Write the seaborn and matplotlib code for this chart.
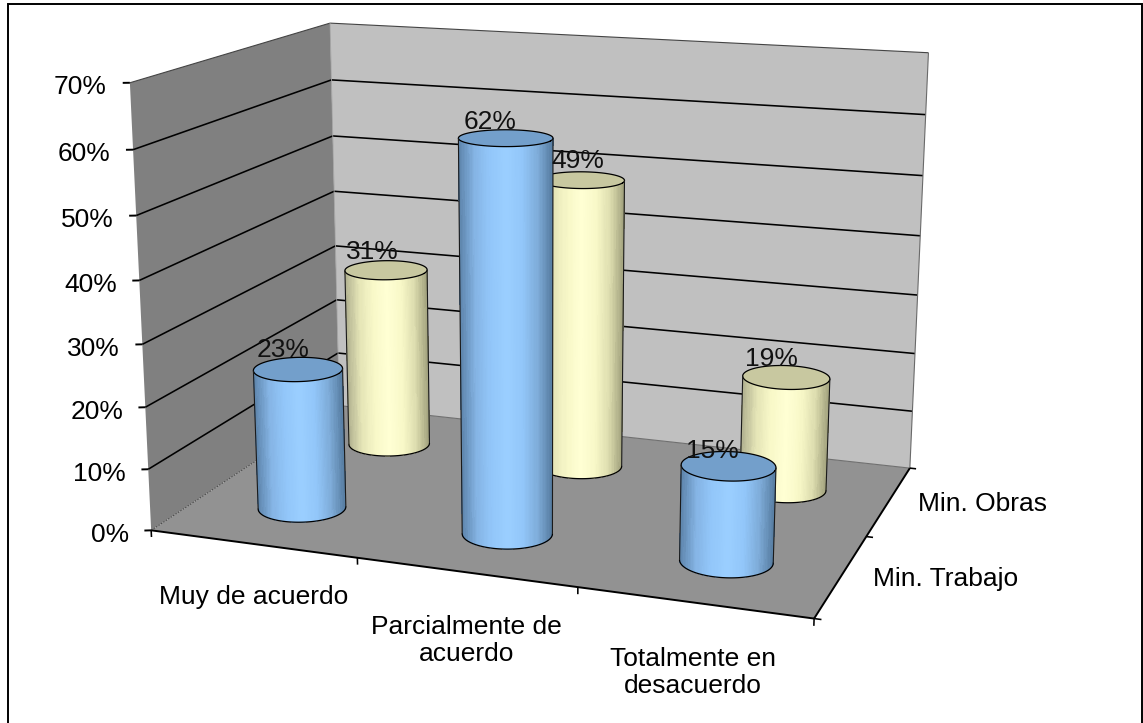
import numpy as np
import matplotlib
matplotlib.use("Agg")
import matplotlib.pyplot as plt
from matplotlib.patches import Rectangle
from mpl_toolkits.mplot3d.art3d import Poly3DCollection
import seaborn as sns

# Survey results, percent of answers per ministry
categorias = ["Muy de acuerdo", "Parcialmente de\nacuerdo", "Totalmente en\ndesacuerdo"]
ministerios = ["Min. Trabajo", "Min. Obras"]
min_trabajo = [23, 62, 15]
min_obras = [31, 49, 19]
ticks_valor = [0, 10, 20, 30, 40, 50, 60, 70]

W, H = 1143, 723

# Camera calibration: box coordinates (category, series, percent) and their screen pixels
box_points = np.array([
    (0, 0, 0), (1, 0, 0), (2, 0, 0), (3, 0, 0), (3, 1, 0), (3, 2, 0), (0, 2, 0),
    (0, 0, 70), (0, 0, 60), (0, 2, 70), (3, 2, 70), (3, 2, 60),
], dtype=float)
screen_points = np.array([
    (152, 530), (357, 558), (577, 588), (814, 618), (867, 537), (910, 467), (339, 406),
    (130, 82), (133, 150), (330, 23), (929, 53), (925, 115),
], dtype=float)


def fit_camera(world, screen):
    """Least-squares 3x4 projective camera (direct linear transform)."""
    rows = []
    for (x, y, z), (u, v) in zip(world, screen):
        rows.append([x, y, z, 1, 0, 0, 0, 0, -u * x, -u * y, -u * z, -u])
        rows.append([0, 0, 0, 0, x, y, z, 1, -v * x, -v * y, -v * z, -v])
    P = np.linalg.svd(np.array(rows))[2][-1].reshape(3, 4)
    return P / P[2, 3]


P = fit_camera(box_points, screen_points)


def to_pixels(x, y, z):
    pts = np.stack([x, y, z, np.ones_like(x)])
    u, v, w = P @ pts
    return u / w, v / w


sns.set_theme(style="white")
plt.rcParams["font.family"] = ["Liberation Sans", "DejaVu Sans"]

fig = plt.figure(figsize=(W / 100, H / 100), dpi=100, facecolor="white")
ax = fig.add_axes([0, 0, 1, 1], projection="3d", computed_zorder=False)
ax.set_proj_type("ortho")
ax.set_xticks([])
ax.set_yticks([])
ax.set_zticks([])
ax.set_axis_off()
ax.patch.set_visible(False)
ax.apply_aspect = lambda position=None: None


def camera_matrix():
    vl = ax.viewLim
    sx = (vl.x1 - vl.x0) / W
    sy = (vl.y1 - vl.y0) / H
    return np.array([
        vl.x0 * P[2] + sx * P[0],
        vl.y1 * P[2] - sy * P[1],
        [0, 1, 0, 0],
        P[2],
    ])


ax.get_proj = camera_matrix

FONT = 19
PALE_EDGE = "#6a6a6a"


def label(x, y, z, s, **kw):
    """Text anchored at a box coordinate, kept on top of every mark."""
    u, v = to_pixels(np.array(float(x)), np.array(float(y)), np.array(float(z)))
    fig.text(float(u) / W, 1 - float(v) / H, s, fontsize=FONT, **kw)


# Box faces
faces = [
    ([(0, 0, 0), (0, 2, 0), (0, 2, 70), (0, 0, 70)], "#808080"),
    ([(0, 2, 0), (3, 2, 0), (3, 2, 70), (0, 2, 70)], "#c0c0c0"),
    ([(0, 0, 0), (3, 0, 0), (3, 2, 0), (0, 2, 0)], "#929292"),
]
for verts, col in faces:
    ax.add_collection3d(Poly3DCollection([verts], facecolors=col, edgecolors="none", zorder=1))


def seg(a, b, **kw):
    ax.plot([a[0], b[0]], [a[1], b[1]], [a[2], b[2]], solid_capstyle="butt", **kw)


# Gridlines across both walls
for v in ticks_valor[1:-1]:
    seg((0, 0, v), (0, 2, v), color="black", lw=1.15, zorder=3)
    seg((0, 2, v), (3, 2, v), color="black", lw=1.15, zorder=3)

# Box outline
seg((0, 0, 70), (0, 2, 70), color="#444444", lw=0.8, zorder=3)
seg((0, 2, 70), (3, 2, 70), color="#444444", lw=0.8, zorder=3)
seg((3, 2, 70), (3, 2, 0), color=PALE_EDGE, lw=0.8, zorder=3)
seg((0, 2, 70), (0, 2, 0), color="#a0a0a0", lw=0.6, zorder=3)
seg((0, 2, 0), (3, 2, 0), color="#707070", lw=0.8, zorder=3)
seg((0, 0, 0), (0, 2, 0), color="#444444", lw=0.7, ls=(0, (1.5, 1.5)), zorder=3)
seg((0, 0, 0), (3, 0, 0), color="black", lw=1.4, zorder=3)
seg((3, 0, 0), (3, 2, 0), color="black", lw=1.4, zorder=3)

# Percent axis: ticks and labels to the left of the front edge
for v in ticks_valor:
    seg((0, 0, v), (-0.027, -0.0125, v), color="black", lw=1.4, zorder=3)
    label(-0.088, -0.041, v - 0.6, f"{v}%", ha="right", va="center", color="black")

# Category axis
for i in range(4):
    seg((i, 0, 0), (i, 0, -1.1), color="black", lw=1.15, zorder=3)
for i, cat in enumerate(categorias):
    label(i + 0.5, 0, -6.8, cat, ha="center", va="top", color="black",
          linespacing=1.18, multialignment="center")

# Series axis
for j in range(3):
    seg((3, j, 0), (3.03, j, 0), color="black", lw=1.15, zorder=3)
for j, nombre in enumerate(ministerios):
    label(3.135, j + 0.5, 0.1, nombre, ha="left", va="center", color="black")

# Cylinder shading, left silhouette to right silhouette
RAMP_BLUE = sns.blend_palette(["#5c83aa", "#85b4e4", "#92c6f9", "#9bcfff", "#92c6f9", "#7fadda", "#557b9f"], 64)
RAMP_YELLOW = sns.blend_palette(["#b0b08f", "#e4e4b6", "#f8f8c8", "#ffffd4", "#f8f8c8", "#dedeb0", "#a0a07c"], 64)
TOP_BLUE = "#739fcb"
TOP_YELLOW = "#c8c8a0"
RX, RY = 0.2, 0.195


def cylinder(cx, cy, value, ramp, top_colour, z):
    th = np.linspace(0, 2 * np.pi, 361)[:-1]
    bx, by = cx + RX * np.cos(th), cy + RY * np.sin(th)
    px, py = to_pixels(bx, by, np.zeros_like(bx))
    il, ir = int(np.argmin(px)), int(np.argmax(px))

    # Front arc runs through the screen-lowest point of the base circle
    front = int(np.argmax(py))
    a0, a1 = th[il], th[ir]
    af = th[front]
    if not (min(a0, a1) < af < max(a0, a1)):
        if a0 < a1:
            a0 += 2 * np.pi
        else:
            a1 += 2 * np.pi
    arc = np.linspace(a0, a1, 97)
    ax_, ay_ = cx + RX * np.cos(arc), cy + RY * np.sin(arc)
    X = np.vstack([ax_, ax_])
    Y = np.vstack([ay_, ay_])
    Z = np.vstack([np.zeros_like(arc), np.full_like(arc, value)])

    u, _ = to_pixels(ax_, ay_, np.zeros_like(arc))
    mid = (u[:-1] + u[1:]) / 2
    t = (mid - u.min()) / (u.max() - u.min())
    cols = np.array([ramp[min(63, int(k * 64))] for k in t])
    ax.plot_surface(X, Y, Z, facecolors=cols[None, :], rstride=1, cstride=1, shade=False,
                    linewidth=0, antialiased=False, zorder=z)

    # Top disc
    ring = np.linspace(0, 2 * np.pi, 121)
    tx, ty = cx + RX * np.cos(ring), cy + RY * np.sin(ring)
    ax.add_collection3d(Poly3DCollection([list(zip(tx, ty, np.full_like(tx, value)))],
                                         facecolors=top_colour, edgecolors="none", zorder=z + 0.1))
    ax.plot(tx, ty, np.full_like(tx, value), color="black", lw=0.9, zorder=z + 0.2)

    # Outline: base arc and the two silhouette lines
    ax.plot(ax_, ay_, np.zeros_like(ax_), color="black", lw=0.9, zorder=z + 0.2)
    for k in (0, -1):
        seg((ax_[k], ay_[k], 0), (ax_[k], ay_[k], value), color="#1a1a1a", lw=0.8, zorder=z + 0.2)


# Rear series first, so the front series overlaps it
for i, v in enumerate(min_obras):
    cylinder(i + 0.5, 1.5, v, RAMP_YELLOW, TOP_YELLOW, 4 + i * 0.5)
for i, v in enumerate(min_trabajo):
    cylinder(i + 0.5, 0.5, v, RAMP_BLUE, TOP_BLUE, 6 + i * 0.5)

# Value labels, with small shifts (category, percent) where neighbours crowd them
label_shift = {(0, 1): (0.0, -0.7), (0, 2): (0.0, -0.9), (1, 1): (0.05, 0.2)}
for j, serie in enumerate([min_trabajo, min_obras]):
    for i, v in enumerate(serie):
        dx, dz = label_shift.get((j, i), (0.0, 0.0))
        label(i + 0.5 - 0.07 + dx, j + 0.5, v + 2.9 + dz, f"{v}%", ha="center", va="center",
              color="#111111")

# Chart frame, running off the lower edge
fig.add_artist(Rectangle((8 / W, -0.02), (1142 - 8) / W, 1.02 - 4 / H, transform=fig.transFigure,
                         fill=False, edgecolor="black", lw=1.4))

fig.savefig("out.png", dpi=100, facecolor="white")
